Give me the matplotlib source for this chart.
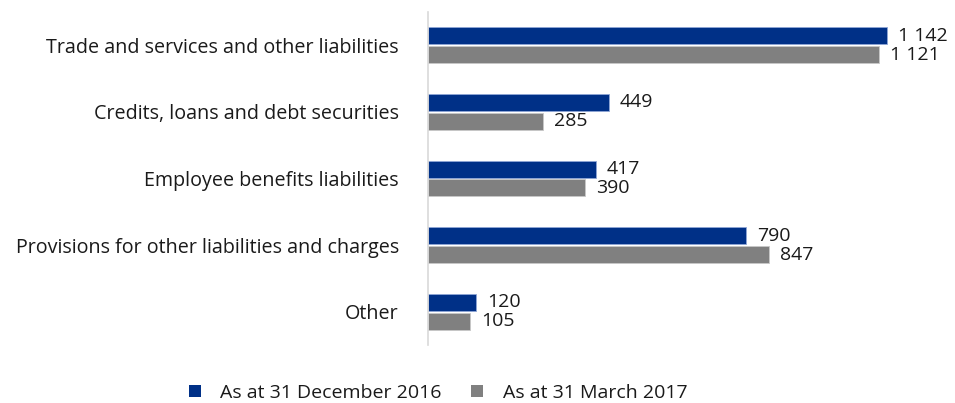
import matplotlib
matplotlib.use("Agg")
import matplotlib.pyplot as plt
import numpy as np
from matplotlib.patches import Patch

categories = [
    "Trade and services and other liabilities",
    "Credits, loans and debt securities",
    "Employee benefits liabilities",
    "Provisions for other liabilities and charges",
    "Other",
]
dec_2016 = [1142, 449, 417, 790, 120]
mar_2017 = [1121, 285, 390, 847, 105]
series_names = ["As at 31 December 2016", "As at 31 March 2017"]

BLUE = "#003087"
GREY = "#808080"
TEXT = "#1a1a1a"

plt.rcParams["font.family"] = ["Open Sans", "DejaVu Sans"]

def fmt(v):
    return f"{v:,}".replace(",", " ")

W, H = 955, 403
fig = plt.figure(figsize=(W / 100, H / 100), dpi=100)
ax = fig.add_axes([428 / W, 1 - 345 / H, (950 - 428) / W, (345 - 12) / H])

y = np.arange(len(categories))
bh = 0.255
gap = 0.015
b1 = ax.barh(y - bh / 2 - gap, dec_2016, height=bh, color=BLUE,
             edgecolor="#8fa6d6", linewidth=0.6)
b2 = ax.barh(y + bh / 2 + gap, mar_2017, height=bh, color=GREY,
             edgecolor="#c8c8c8", linewidth=0.6)

for bars, vals in ((b1, dec_2016), (b2, mar_2017)):
    for rect, v in zip(bars, vals):
        ax.annotate(fmt(v), (v, rect.get_y() + rect.get_height() / 2),
                    xytext=(8, 0), textcoords="offset points",
                    va="center", ha="left", fontsize=14, color=TEXT)

ax.set_xlim(0, 1298)
ax.set_ylim(len(categories) - 0.5, -0.5)
ax.set_yticks(y)
ax.set_yticklabels(categories, fontsize=14.2, color=TEXT)
ax.tick_params(axis="y", length=0, pad=21)
ax.set_xticks([])
for s in ("top", "right", "bottom"):
    ax.spines[s].set_visible(False)
ax.spines["left"].set_color("#d9d9d9")
ax.spines["left"].set_linewidth(1.2)

handles = [Patch(facecolor=BLUE, edgecolor="none"),
           Patch(facecolor=GREY, edgecolor="none")]
fig.legend(handles, series_names, loc="center", bbox_to_anchor=(438 / W, 1 - 393 / H),
           ncol=2, frameon=False, handlelength=0.62, handleheight=0.62,
           handletextpad=1.0, columnspacing=1.5, labelcolor=TEXT,
           prop={"size": 14})

fig.savefig("out.png", dpi=100)
